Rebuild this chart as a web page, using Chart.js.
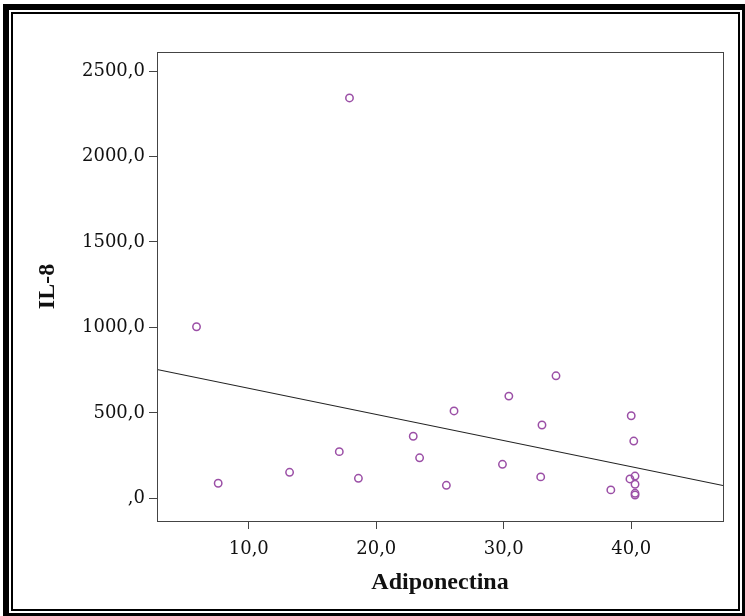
<!DOCTYPE html>
<html>
<head>
<meta charset="utf-8">
<script src="https://cdn.jsdelivr.net/npm/chart.js@4.4.1/dist/chart.umd.min.js"></script>
<style>
  html, body { margin: 0; padding: 0; background: #fff; }
  #wrap { position: relative; width: 745px; height: 616px; overflow: hidden; }
  #myChart { position: absolute; left: 0; top: 0; }
  .frame { position: absolute; pointer-events: none; box-sizing: border-box; }
  #outer { left: 3px; top: 4px; width: 745px; height: 615px; border: 6px solid #000; }
  #inner { left: 11px; top: 12px; width: 729px; height: 599px; border: 2px solid #000; }
</style>
</head>
<body>
<div id="wrap">
  <canvas id="myChart" width="745" height="616"></canvas>
  <div class="frame" id="outer"></div>
  <div class="frame" id="inner"></div>
</div>
<script>
// Adiponectina (x) vs IL-8 (y)
const adiponectina = [5.9, 17.9, 7.6, 13.2, 17.1, 18.6, 22.9, 23.4, 25.5, 26.1, 29.9, 30.4,
  33.0, 32.9, 34.1, 38.4, 40.0, 40.2, 39.9, 40.3, 40.3, 40.3, 40.3];
const il8 = [1004, 2343, 88, 152, 273, 117, 363, 237, 76, 511, 199, 598,
  429, 125, 717, 49, 483, 335, 113, 130, 82, 29, 19];

// fit line
const fitIntercept = 797;
const fitSlope = -15.3;

const xTicks = [10, 20, 30, 40];
const xTickLabels = ["10,0", "20,0", "30,0", "40,0"];
const yTicks = [0, 500, 1000, 1500, 2000, 2500];
const yTickLabels = [",0", "500,0", "1000,0", "1500,0", "2000,0", "2500,0"];

const xMin = 2.8, xMax = 47.2;
const yMin = -133, yMax = 2612;

const points = adiponectina.map((x, i) => ({ x: x, y: il8[i] }));
const fitLine = [xMin, xMax].map(x => ({ x: x, y: fitIntercept + fitSlope * x }));

const axisColor = "#444";
const tickFont = { family: "DejaVu Serif", size: 18 };
const titleFont = { family: "Liberation Serif", size: 24, weight: "bold" };

const boxPlugin = {
  id: "box",
  afterDraw(chart) {
    const { ctx, chartArea: a } = chart;
    ctx.save();
    ctx.strokeStyle = axisColor;
    ctx.lineWidth = 1;
    ctx.strokeRect(a.left + 0.5, a.top + 0.5, a.right - a.left, a.bottom - a.top);
    ctx.restore();
  },
};

const ctx = document.getElementById("myChart").getContext("2d");
const myChart = new Chart(ctx, {
  type: "scatter",
  data: {
    datasets: [
      {
        label: "IL-8",
        data: points,
        pointStyle: "circle",
        pointRadius: 3.7,
        pointBorderWidth: 1.5,
        pointBorderColor: "#9b4fa6",
        pointBackgroundColor: "rgba(0,0,0,0)",
        order: 1,
      },
      {
        label: "fit",
        data: fitLine,
        showLine: true,
        pointRadius: 0,
        borderColor: "#222",
        borderWidth: 1.1,
        order: 2,
      },
    ],
  },
  options: {
    responsive: false,
    animation: false,
    layout: { padding: { left: 0, top: 52, right: 22, bottom: 0 } },
    plugins: { legend: { display: false }, tooltip: { enabled: false } },
    scales: {
      x: {
        type: "linear",
        min: xMin,
        max: xMax,
        afterBuildTicks: (scale) => { scale.ticks = xTicks.map(v => ({ value: v })); },
        afterFit: (scale) => { scale.height = 95; },
        grid: { drawOnChartArea: false, drawTicks: true, tickLength: 8, color: axisColor },
        border: { display: true, color: axisColor, width: 1 },
        ticks: {
          font: tickFont,
          color: "#111",
          padding: 10,
          maxRotation: 0,
          callback: (v) => xTickLabels[xTicks.indexOf(v)],
        },
        title: {
          display: true,
          text: "Adiponectina",
          font: titleFont,
          color: "#111",
          padding: { top: 0, bottom: 19 },
        },
      },
      y: {
        type: "linear",
        min: yMin,
        max: yMax,
        afterBuildTicks: (scale) => { scale.ticks = yTicks.map(v => ({ value: v })); },
        afterFit: (scale) => { scale.width = 157; },
        grid: { drawOnChartArea: false, drawTicks: true, tickLength: 8, color: axisColor },
        border: { display: true, color: axisColor, width: 1 },
        ticks: {
          font: tickFont,
          color: "#111",
          padding: 4,
          callback: (v) => yTickLabels[yTicks.indexOf(v)],
        },
        title: {
          display: true,
          text: "IL-8",
          font: titleFont,
          color: "#111",
          padding: { top: 33, bottom: 0 },
        },
      },
    },
  },
  plugins: [boxPlugin],
});
</script>
</body>
</html>
